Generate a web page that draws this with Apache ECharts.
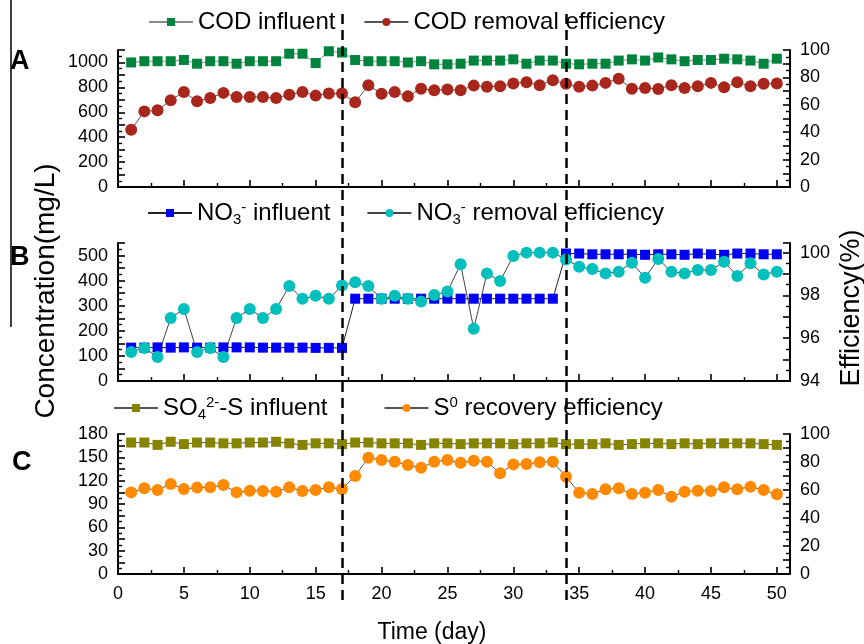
<!DOCTYPE html>
<html>
<head>
<meta charset="utf-8">
<script src="https://cdn.jsdelivr.net/npm/echarts/dist/echarts.min.js"></script>
<style>
  html, body { margin: 0; padding: 0; background: #fff; }
  #chart { width: 864px; height: 644px; }
</style>
</head>
<body>
<div id="chart"></div>
<script>
// days of operation
const days = [1,2,3,4,5,6,7,8,9,10,11,12,13,14,15,16,17,18,19,20,21,22,23,24,25,
  26,27,28,29,30,31,32,33,34,35,36,37,38,39,40,41,42,43,44,45,46,47,48,49,50];
const xTicks = [0, 5, 10, 15, 20, 25, 30, 35, 40, 45, 50];
const phaseDays = [17, 34];

// panel A (mg/L, %)
const codInfluent = [1000,1010,1010,1010,1020,990,1010,1010,990,1010,1010,1010,1070,1070,995,1090,1080,1020,1010,1010,
  1010,1000,1010,985,985,990,1015,1015,1015,1025,990,1015,1015,990,985,990,990,1015,1025,1015,
  1040,1025,1010,1020,1020,1030,1025,1015,990,1030];
const codRemoval = [41.8,55.2,56,63.3,69.4,62.6,65,68.7,65.7,65.7,65.7,65,67.4,69.4,66.7,68.2,68.2,61.8,74.3,68,
  69.4,66.2,71.8,70.6,71.1,70.6,74,73.1,73.5,75.5,76.5,74.3,77.9,75.3,73.1,74,76,79,71.8,72.3,
  71.6,74.3,72.3,73.5,76,72.8,76.5,73.5,75.3,75.5];

// panel B
const no3Influent = [133,133,134,133,134,133,133,134,134,134,133,133,133,133,132,132,132,328,328,328,
  328,328,328,328,328,328,328,328,328,328,328,328,328,508,508,505,505,505,505,503,505,505,503,
  508,505,503,508,508,505,505];
const no3Removal = [95.36,95.54,95.12,96.94,97.37,95.36,95.54,95.12,96.94,97.37,96.94,97.37,98.44,97.84,97.99,97.84,98.46,98.61,98.44,97.84,
  97.99,97.84,97.71,98.02,98.18,99.46,96.44,99.03,98.67,99.84,100,100,100,99.68,99.34,99.23,99.03,99.11,99.53,98.83,
  99.7,99.11,99.03,99.19,99.19,99.57,98.91,99.5,98.98,99.11];

// panel C
const so4Influent = [169,169,166,170,167,169,169,168,168,169,169,170,168,166,168,168,167,169,169,168,
  168,168,166,168,168,167,168,168,168,167,168,168,169,167,167,167,168,166,167,168,
  168,167,168,167,168,168,168,168,167,166];
const s0Recovery = [58.3,61.2,60,64.3,60.7,61.7,61.9,63.6,58.3,59.5,59.3,58.8,61.9,59.3,60,61.9,60.7,70,83.1,81.4,
  80.2,77.9,75.9,80.2,81.4,79.4,80.9,80.2,71.9,78.3,78.6,79.8,80.2,69.5,58.1,57.1,60.5,61.2,57.1,58.1,
  60,55.2,58.8,59.5,59.3,61.9,60.5,62.4,60,56.9];

const FONT = 'Liberation Sans';
const chart = echarts.init(document.getElementById('chart'));

function pairs(ys) {
  return days.map((d, i) => [d, ys[i]]);
}

const axisLine = { show: true, onZero: false, lineStyle: { color: '#000', width: 2 } };
const axisTick = { show: true, inside: true, length: 7, lineStyle: { color: '#000', width: 1.6 } };
const minorTick = { show: true, splitNumber: 2, length: 4, lineStyle: { color: '#000', width: 1.4 } };

function xAx(grid, labels) {
  return {
    type: 'value', gridIndex: grid, min: 0, max: 51, interval: 5,
    axisLine: axisLine, axisTick: axisTick, minorTick: minorTick,
    splitLine: { show: false },
    axisLabel: {
      show: labels, fontFamily: FONT, fontSize: 18, color: '#000', margin: 11,
      formatter: v => (xTicks.indexOf(v) >= 0 ? String(v) : '')
    }
  };
}

function yAx(grid, pos, min, max, interval, step) {
  return {
    type: 'value', gridIndex: grid, position: pos, min: min, max: max, interval: interval,
    axisLine: axisLine, axisTick: axisTick, minorTick: minorTick,
    splitLine: { show: false },
    axisLabel: {
      fontFamily: FONT, fontSize: 18, color: '#000', margin: 10,
      formatter: v => ((v - min) % step === 0 ? String(v) : '')
    }
  };
}

function lineSeries(name, x, y, data, symbol, size, color, lineColor) {
  return {
    name: name, type: 'line', xAxisIndex: x, yAxisIndex: y,
    data: pairs(data), symbol: symbol, symbolSize: size, showSymbol: true,
    itemStyle: { color: color },
    lineStyle: { color: lineColor, width: 1 },
    emphasis: { disabled: true },
    animation: false
  };
}

const richText = {
  t: { fontFamily: FONT, fontSize: 24, color: '#000', lineHeight: 28 },
  sub: { fontFamily: FONT, fontSize: 15, color: '#000', lineHeight: 28, padding: [13, 0, 0, 0] },
  sup: { fontFamily: FONT, fontSize: 15, color: '#000', lineHeight: 28, padding: [0, 0, 11, 0] }
};

const legendNames = {
  'COD influent': '{t|COD influent}',
  'COD removal efficiency': '{t|COD removal efficiency}',
  'NO3 influent': '{t|NO}{sub|3}{sup|-}{t| influent}',
  'NO3 removal efficiency': '{t|NO}{sub|3}{sup|-}{t| removal efficiency}',
  'SO4 influent': '{t|SO}{sub|4}{sup|2-}{t|-S influent}',
  'S0 recovery efficiency': '{t|S}{sup|0}{t| recovery efficiency}'
};

function legend(names, left, top, gap) {
  return {
    data: names, left: left, top: top, itemWidth: 44, itemHeight: 10, itemGap: gap,
    selectedMode: false,
    formatter: n => legendNames[n],
    textStyle: { rich: richText }
  };
}

const option = {
  backgroundColor: '#fff',
  animation: false,
  grid: [
    { left: 118, right: 74, top: 50, height: 137 },
    { left: 118, right: 74, top: 243, height: 138 },
    { left: 118, right: 74, top: 434, height: 140 },
    { left: 118, right: 74, top: 13, bottom: 44 }
  ],
  legend: [
    legend(['COD influent', 'COD removal efficiency'], 143, 5, 28),
    legend(['NO3 influent', 'NO3 removal efficiency'], 142, 194, 36),
    legend(['SO4 influent', 'S0 recovery efficiency'], 108, 389, 56)
  ],
  xAxis: [
    xAx(0, false), xAx(1, false), xAx(2, true),
    { type: 'value', gridIndex: 3, min: 0, max: 51, show: false }
  ],
  yAxis: [
    yAx(0, 'left', 0, 1100, 100, 200),
    yAx(0, 'right', 0, 100, 10, 20),
    yAx(1, 'left', 0, 550, 50, 100),
    yAx(1, 'right', 94, 100.45, 1, 2),
    yAx(2, 'left', 0, 180, 15, 30),
    yAx(2, 'right', 0, 100, 10, 20),
    { type: 'value', gridIndex: 3, min: 0, max: 1, show: false }
  ],
  series: [
    lineSeries('COD influent', 0, 0, codInfluent, 'rect', 10, '#00843d', '#8a8a8a'),
    lineSeries('COD removal efficiency', 0, 1, codRemoval, 'circle', 12, '#a8261b', '#555'),
    lineSeries('NO3 influent', 1, 2, no3Influent, 'rect', 10, '#0000f2', '#222'),
    lineSeries('NO3 removal efficiency', 1, 3, no3Removal, 'circle', 12, '#00bfbd', '#444'),
    lineSeries('SO4 influent', 2, 4, so4Influent, 'rect', 10, '#868400', '#555'),
    lineSeries('S0 recovery efficiency', 2, 5, s0Recovery, 'circle', 12, '#ff8a00', '#555'),
    {
      type: 'scatter', xAxisIndex: 3, yAxisIndex: 6, data: [], silent: true,
      markLine: {
        symbol: 'none', silent: true, animation: false,
        label: { show: false },
        lineStyle: { color: '#000', width: 2.5, type: [10, 6] },
        data: phaseDays.map(d => ({ xAxis: d }))
      }
    }
  ],
  graphic: [
    { type: 'line', shape: { x1: 11, y1: 0, x2: 11, y2: 327 }, style: { stroke: '#000', lineWidth: 1.5 } },
    { type: 'text', left: 10, top: 48, style: { text: 'A', font: 'bold 27px ' + FONT, fill: '#000' } },
    { type: 'text', left: 10, top: 244, style: { text: 'B', font: 'bold 27px ' + FONT, fill: '#000' } },
    { type: 'text', left: 12, top: 449, style: { text: 'C', font: 'bold 27px ' + FONT, fill: '#000' } },
    {
      type: 'text', x: 60, y: 291, rotation: Math.PI / 2,
      style: { text: 'Concentration(mg/L)', font: '28px ' + FONT, fill: '#000', align: 'center', verticalAlign: 'bottom' }
    },
    {
      type: 'text', x: 838, y: 308, rotation: Math.PI / 2,
      style: { text: 'Efficiency(%)', font: '27px ' + FONT, fill: '#000', align: 'center', verticalAlign: 'top' }
    },
    {
      type: 'text', x: 432, y: 633,
      style: { text: 'Time (day)', font: '23px ' + FONT, fill: '#000', align: 'center', verticalAlign: 'middle' }
    }
  ]
};

chart.setOption(option);
</script>
</body>
</html>
